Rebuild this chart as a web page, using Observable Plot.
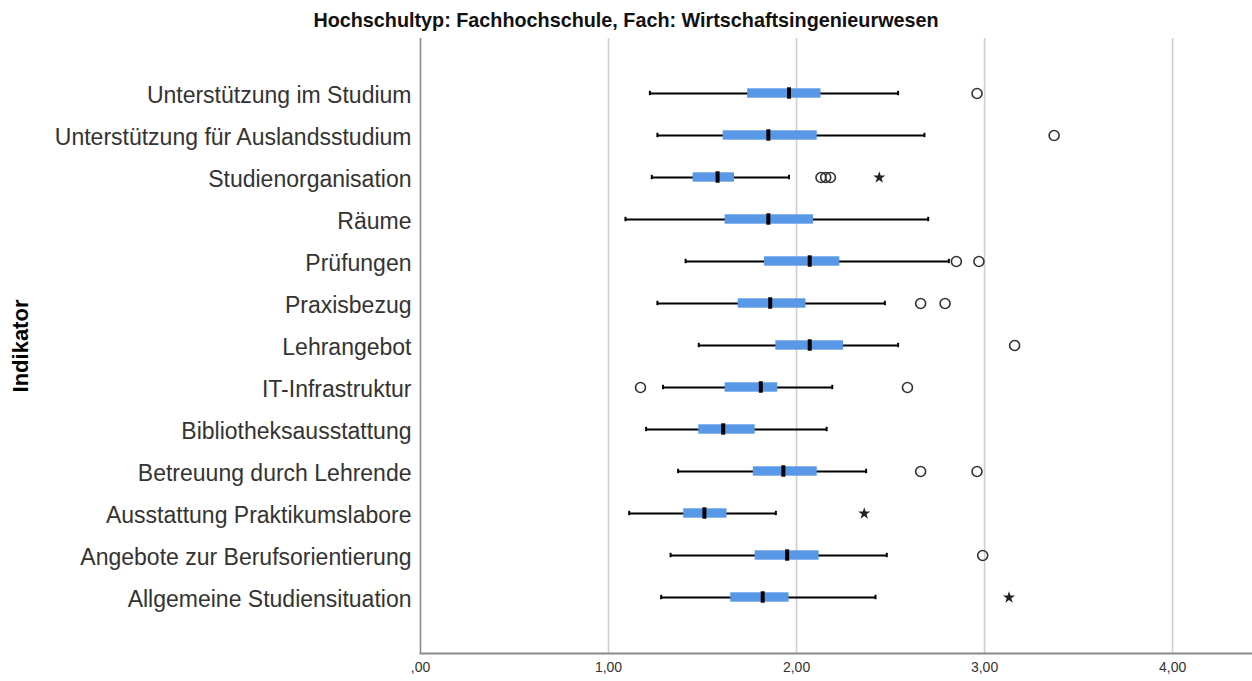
<!DOCTYPE html>
<html>
<head>
<meta charset="utf-8">
<script src="https://cdn.jsdelivr.net/npm/d3@7"></script>
<script src="https://cdn.jsdelivr.net/npm/@observablehq/plot@0.6"></script>
<style>
  html, body { margin: 0; padding: 0; background: #fff; }
  #title { width: 1252px; height: 30px; line-height: 30px; padding-top: 5px; text-align: center;
    font-family: "Liberation Sans Narrow", "Arial Narrow", "Liberation Sans", sans-serif; font-weight: bold; font-size: 19.8px; color: #111; }
</style>
</head>
<body>
<div id="title">Hochschultyp: Fachhochschule, Fach: Wirtschaftsingenieurwesen</div>
<div id="chart"></div>
<script>
const categories = [
  "Unterstützung im Studium",
  "Unterstützung für Auslandsstudium",
  "Studienorganisation",
  "Räume",
  "Prüfungen",
  "Praxisbezug",
  "Lehrangebot",
  "IT-Infrastruktur",
  "Bibliotheksausstattung",
  "Betreuung durch Lehrende",
  "Ausstattung Praktikumslabore",
  "Angebote zur Berufsorientierung",
  "Allgemeine Studiensituation"
];
const whiskerLow  = [1.22, 1.26, 1.23, 1.09, 1.41, 1.26, 1.48, 1.29, 1.20, 1.37, 1.11, 1.33, 1.28];
const q1          = [1.74, 1.61, 1.45, 1.62, 1.83, 1.69, 1.89, 1.62, 1.48, 1.77, 1.40, 1.78, 1.65];
const median      = [1.96, 1.85, 1.58, 1.85, 2.07, 1.86, 2.07, 1.81, 1.61, 1.93, 1.51, 1.95, 1.82];
const q3          = [2.13, 2.11, 1.67, 2.09, 2.23, 2.05, 2.25, 1.90, 1.78, 2.11, 1.63, 2.12, 1.96];
const whiskerHigh = [2.54, 2.68, 1.96, 2.70, 2.81, 2.47, 2.54, 2.19, 2.16, 2.37, 1.89, 2.48, 2.42];

const outlierCategory = [
  "Unterstützung im Studium",
  "Unterstützung für Auslandsstudium",
  "Studienorganisation", "Studienorganisation", "Studienorganisation",
  "Prüfungen", "Prüfungen",
  "Praxisbezug", "Praxisbezug",
  "Lehrangebot",
  "IT-Infrastruktur", "IT-Infrastruktur",
  "Betreuung durch Lehrende", "Betreuung durch Lehrende",
  "Angebote zur Berufsorientierung"
];
const outlierValue = [2.96, 3.37, 2.13, 2.155, 2.18, 2.85, 2.97, 2.66, 2.79, 3.16, 1.17, 2.59, 2.66, 2.96, 2.99];

const extremeCategory = ["Studienorganisation", "Ausstattung Praktikumslabore", "Allgemeine Studiensituation"];
const extremeValue = [2.44, 2.36, 3.13];

const xTicks = [0, 1, 2, 3, 4];
const gridLines = [1, 2, 3, 4];

const boxes = categories.map((c, i) => ({
  cat: c, lo: whiskerLow[i], q1: q1[i], med: median[i], q3: q3[i], hi: whiskerHigh[i]
}));
const outliers = outlierCategory.map((c, i) => ({cat: c, v: outlierValue[i]}));
const extremes = extremeCategory.map((c, i) => ({cat: c, v: extremeValue[i]}));

const fmt = d => d3.format(".2f")(d).replace(".", ",").replace(/^0/, "");
const narrow = '"Liberation Sans Narrow", "Arial Narrow", "Liberation Sans", sans-serif';
const inset = 30.7;
const step = (615 - 2 * inset) / 13;

const chart = Plot.plot({
  width: 1252,
  height: 646,
  marginTop: 3,
  marginBottom: 28,
  marginLeft: 420,
  marginRight: 0,
  style: { fontFamily: '"Liberation Sans", Arial, sans-serif', background: "#fff" },
  x: { domain: [0, 4.425] },
  y: { type: "band", domain: categories, padding: 0, insetTop: inset, insetBottom: inset },
  marks: [
    Plot.ruleX(gridLines, { stroke: "#cfcfcf", strokeWidth: 1.6 }),
    Plot.ruleX([0], { stroke: "#8a8a8a", strokeWidth: 1.6 }),
    Plot.frame({ anchor: "bottom", stroke: "#8a8a8a", strokeWidth: 2 }),
    Plot.ruleY(boxes, { y: "cat", x1: "lo", x2: "hi", stroke: "#000", strokeWidth: 2 }),
    Plot.tickX(boxes, { x: "lo", y: "cat", stroke: "#000", strokeWidth: 2, insetTop: (step - 5) / 2, insetBottom: (step - 5) / 2 }),
    Plot.tickX(boxes, { x: "hi", y: "cat", stroke: "#000", strokeWidth: 2, insetTop: (step - 5) / 2, insetBottom: (step - 5) / 2 }),
    Plot.barX(boxes, { y: "cat", x1: "q1", x2: "q3", fill: "#5898e6", insetTop: (step - 10) / 2, insetBottom: (step - 10) / 2 }),
    Plot.tickX(boxes, { x: "med", y: "cat", stroke: "#000", strokeWidth: 4, insetTop: (step - 12) / 2, insetBottom: (step - 12) / 2 }),
    Plot.dot(outliers, { x: "v", y: "cat", r: 5, stroke: "#333", strokeWidth: 1.6, fill: "none" }),
    Plot.dot(extremes, { x: "v", y: "cat", symbol: "star", r: 3.8, fill: "#222", stroke: "none" }),
    Plot.axisY({ tickSize: 0, tickPadding: 9, fontSize: 23, fill: "#333", label: null, dy: 2 }),
    Plot.axisX(xTicks, { tickSize: 0, tickPadding: 9, fontSize: 14, fill: "#333", tickFormat: fmt, label: null, fontFamily: narrow }),
    Plot.text(["Indikator"], { frameAnchor: "left", dx: -400, rotate: -90, textAnchor: "middle", fontSize: 22, fontWeight: "bold", fill: "#000" })
  ]
});
document.getElementById("chart").appendChild(chart);
</script>
</body>
</html>
